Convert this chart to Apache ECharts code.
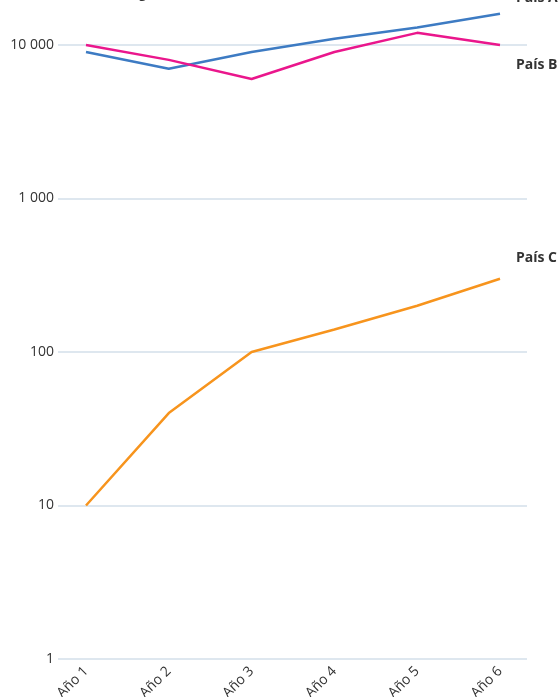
<!DOCTYPE html>
<html>
<head>
<meta charset="utf-8">
<script src="https://cdn.jsdelivr.net/npm/echarts@6/dist/echarts.min.js"></script>
<style>
  html, body { margin: 0; padding: 0; background: #fff; }
  #chart { width: 559px; height: 697px; }
</style>
</head>
<body>
<div id="chart"></div>
<script>
// Categories along the x axis
const categories = ['Año 1', 'Año 2', 'Año 3', 'Año 4', 'Año 5', 'Año 6'];

// Series values (log scale)
const paisA = [9000, 7000, 9000, 11000, 13000, 16000];
const paisB = [10000, 8000, 6000, 9000, 12000, 10000];
const paisC = [10, 40, 100, 140, 200, 300];

// Y-axis ticks
const yTicks = [1, 10, 100, 1000, 10000];

const seriesDefs = [
  { name: 'País A', values: paisA, color: '#3d7bc3', labelDy: -16 },
  { name: 'País B', values: paisB, color: '#ea168c', labelDy: 20 },
  { name: 'País C', values: paisC, color: '#f7941d', labelDy: -21 }
];

function fmtThousands(v) {
  return String(Math.round(v)).replace(/\B(?=(\d{3})+(?!\d))/g, ' ');
}

const chart = echarts.init(document.getElementById('chart'), null, { renderer: 'canvas' });

chart.setOption({
  animation: false,
  textStyle: { fontFamily: 'Open Sans, sans-serif' },
  graphic: [{
    type: 'text',
    left: 12,
    top: -14,
    style: {
      text: 'Gráfico de escala logarítmica',
      font: '14px "Open Sans", sans-serif',
      fill: '#333'
    }
  }],
  grid: {
    left: 58, right: 32, top: 45, bottom: 38,
    containLabel: false,
    outerBoundsMode: 'none'
  },
  xAxis: {
    type: 'value',
    min: 1 - 28 / 82.8,
    max: 6 + 27 / 82.8,
    splitLine: { show: false },
    axisLine: { show: false },
    axisTick: { show: false },
    axisLabel: {
      customValues: categories.map((c, i) => i + 1),
      formatter: v => categories[Math.round(v) - 1] || '',
      rotate: 45,
      margin: 10,
      color: '#333',
      fontSize: 14
    }
  },
  yAxis: {
    type: 'log',
    logBase: 10,
    min: yTicks[0],
    max: yTicks[yTicks.length - 1],
    axisLine: { show: false },
    axisTick: { show: false },
    splitLine: { lineStyle: { color: '#d3dfea', width: 1.5 } },
    axisLabel: {
      formatter: v => fmtThousands(v),
      color: '#333',
      fontSize: 14,
      margin: 4
    }
  },
  series: seriesDefs.map(s => ({
    name: s.name,
    type: 'line',
    data: s.values.map((v, i) => [i + 1, v]),
    clip: false,
    symbol: 'none',
    lineStyle: { color: s.color, width: 2.5 },
    itemStyle: { color: s.color },
    endLabel: {
      show: true,
      formatter: '{a}',
      distance: 0,
      offset: [16, s.labelDy],
      color: '#333',
      fontWeight: 'bold',
      fontSize: 14
    }
  }))
});
</script>
</body>
</html>
